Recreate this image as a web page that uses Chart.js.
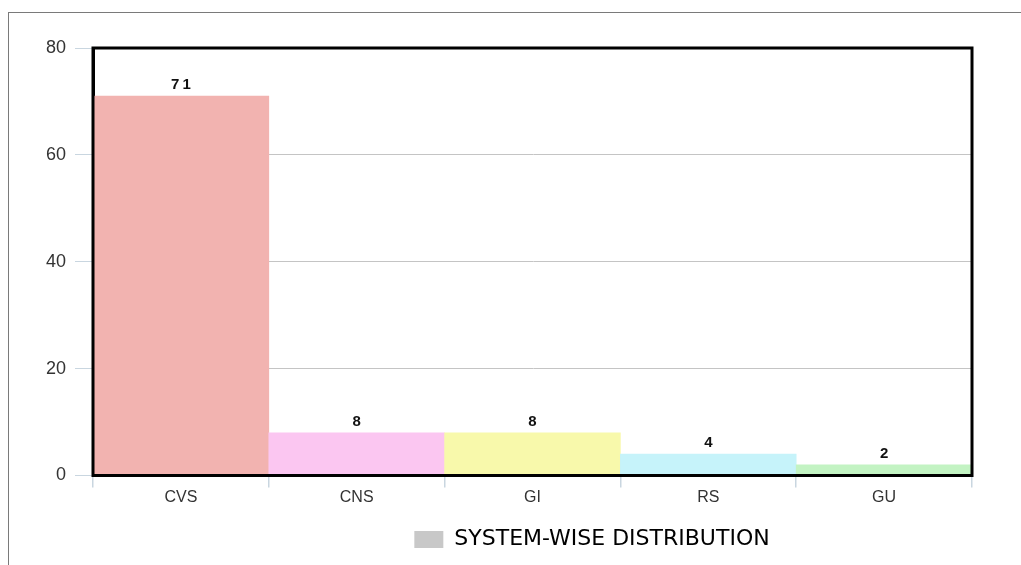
<!DOCTYPE html>
<html>
<head>
<meta charset="utf-8">
<script src="https://cdn.jsdelivr.net/npm/chart.js@4/dist/chart.umd.min.js"></script>
<style>
  html, body { margin: 0; padding: 0; background: #fff; }
  #wrap { position: relative; width: 1021px; height: 565px; overflow: hidden; }
  #frame { position: absolute; left: 8px; top: 12px; right: 0; bottom: 0;
           border-top: 1.5px solid #7a7a7a; border-left: 1.5px solid #7a7a7a; }
  canvas { position: absolute; left: 0; top: 0; }
</style>
</head>
<body>
<div id="wrap">
  <div id="frame"></div>
  <canvas id="c" width="1021" height="565"></canvas>
</div>
<script>
// Systems and number of cases per system
const categories = ['CVS', 'CNS', 'GI', 'RS', 'GU'];
const caseCounts = [71, 8, 8, 4, 2];
const barColors = ['#f2b3b0', '#fbc6f1', '#f8f9ab', '#c6f3fa', '#c3f3c3'];
const yTicks = [0, 20, 40, 60, 80];
const seriesName = 'SYSTEM-WISE DISTRIBUTION';

// Value labels above each bar
const valueLabels = {
  id: 'valueLabels',
  afterDatasetsDraw(chart) {
    const ctx = chart.ctx;
    const meta = chart.getDatasetMeta(0);
    ctx.save();
    ctx.font = 'bold 15px "Liberation Sans", Arial, sans-serif';
    ctx.letterSpacing = '3px';
    ctx.fillStyle = '#111';
    ctx.textAlign = 'center';
    ctx.textBaseline = 'alphabetic';
    meta.data.forEach((bar, i) => {
      ctx.fillText(String(chart.data.datasets[0].data[i]), bar.x + 1.5, bar.y - 7);
    });
    ctx.restore();
  }
};

// Heavy black frame round the plot area
const plotFrame = {
  id: 'plotFrame',
  afterDraw(chart) {
    const a = chart.chartArea;
    const ctx = chart.ctx;
    ctx.save();
    ctx.strokeStyle = '#000';
    ctx.lineWidth = 3;
    ctx.strokeRect(a.left, a.top, a.right - a.left, a.bottom - a.top);
    ctx.restore();
  }
};

// Legend sits a little right of the plot centre
const legendShift = {
  id: 'legendShift',
  afterLayout(chart) {
    if (chart.legend) chart.legend.left += 212;
  }
};

new Chart(document.getElementById('c'), {
  type: 'bar',
  data: {
    labels: categories,
    datasets: [{
      label: seriesName,
      data: caseCounts,
      backgroundColor: barColors,
      borderWidth: 0,
      categoryPercentage: 1.0,
      barPercentage: 1.0
    }]
  },
  options: {
    responsive: false,
    animation: false,
    layout: { padding: { top: 48, right: 49, left: 0, bottom: 4.5 } },
    scales: {
      x: {
        grid: {
          offset: true,
          drawOnChartArea: false,
          tickLength: 12,
          tickColor: '#c9d6e0',
          lineWidth: 1.5
        },
        border: { color: '#000', width: 3 },
        ticks: {
          color: '#333',
          font: { size: 16, family: '"Liberation Sans", Arial, sans-serif' },
          padding: 0
        },
        afterFit(scale) { scale.height = 43; }
      },
      y: {
        min: 0,
        max: 80,
        afterBuildTicks(scale) { scale.ticks = yTicks.map(v => ({ value: v })); },
        grid: {
          color: '#c4c4c4',
          lineWidth: 1,
          tickLength: 18,
          tickColor: '#c9d6e0'
        },
        border: { color: '#000', width: 3 },
        ticks: {
          color: '#333',
          font: { size: 18, family: '"Liberation Sans", Arial, sans-serif' },
          padding: 9
        },
        afterFit(scale) { scale.width = 93; }
      }
    },
    plugins: {
      tooltip: { enabled: false },
      legend: {
        position: 'bottom',
        labels: {
          boxWidth: 29,
          boxHeight: 17,
          padding: 10,
          color: '#444',
          font: { size: 22, family: '"DejaVu Sans", "Open Sans", sans-serif' },
          generateLabels() {
            return [{ text: seriesName, fillStyle: '#c8c8c8', strokeStyle: '#c8c8c8', lineWidth: 0, datasetIndex: 0 }];
          }
        }
      }
    }
  },
  plugins: [valueLabels, plotFrame, legendShift]
});
</script>
</body>
</html>
